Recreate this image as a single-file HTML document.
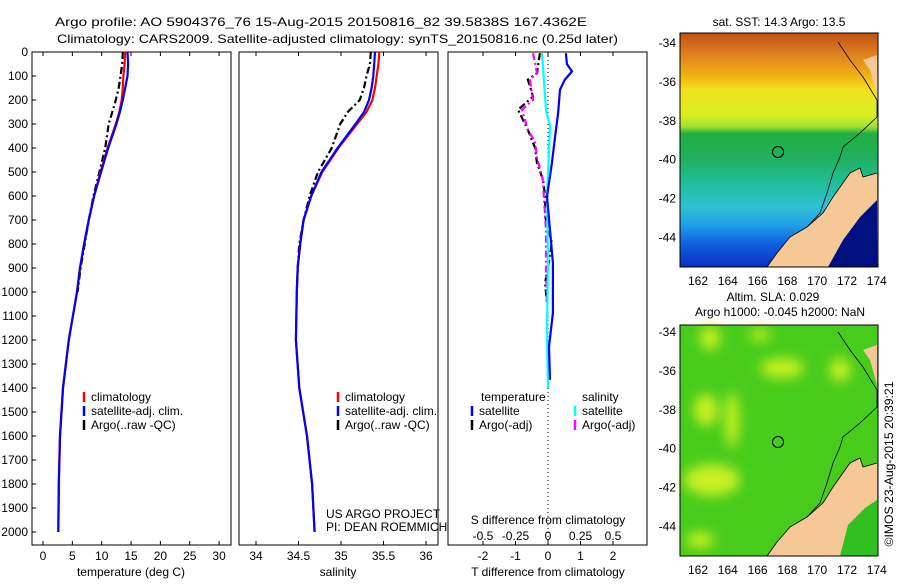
<!DOCTYPE html>
<html><head><meta charset="utf-8"><style>
body{margin:0;background:#fff;}
svg text{font-family:"Liberation Sans",sans-serif;font-size:12px;fill:#000;}
</style></head><body>
<svg id="c" width="900" height="580" viewBox="0 0 900 580" xmlns="http://www.w3.org/2000/svg">
<defs>
<linearGradient id="sst" x1="0" y1="0" x2="0" y2="1">
<stop offset="0" stop-color="#c05010"/><stop offset="0.09" stop-color="#e08020"/>
<stop offset="0.18" stop-color="#f0b010"/><stop offset="0.24" stop-color="#f0e020"/>
<stop offset="0.35" stop-color="#d8f020"/><stop offset="0.40" stop-color="#a0e030"/>
<stop offset="0.43" stop-color="#20b040"/><stop offset="0.54" stop-color="#20b060"/>
<stop offset="0.65" stop-color="#20c0a0"/><stop offset="0.74" stop-color="#30c0d0"/>
<stop offset="0.82" stop-color="#20a0e8"/><stop offset="0.9" stop-color="#1060e0"/>
<stop offset="1" stop-color="#0830c0"/></linearGradient>
<filter id="bl"><feGaussianBlur stdDeviation="6"/></filter>
</defs>
<text x="55" y="26" font-size="13" textLength="532" lengthAdjust="spacingAndGlyphs">Argo profile: AO 5904376_76 15-Aug-2015 20150816_82 39.5838S 167.4362E</text>
<text x="57" y="43" font-size="13" textLength="561" lengthAdjust="spacingAndGlyphs">Climatology: CARS2009. Satellite-adjusted climatology: synTS_20150816.nc (0.25d later)</text>
<g id="axes"></g>
<g id="marks"></g>
<g>
<text x="779" y="26" text-anchor="middle">sat. SST: 14.3 Argo: 13.5</text>
<rect x="680" y="33" width="198" height="234" fill="url(#sst)"/>
<polygon points="828,267 843,240 860,217 877,200 877,267" fill="#001080"/>
<polygon points="767,267 777,253 790,237 807,227 823,213 833,197 850,173 860,168 863,177 877,173 877,200 860,217 843,240 828,267" fill="#f5c896"/>
<polygon points="863,60 877,55 877,95 870,70" fill="#f5c896"/>
<polyline points="767,267 777,253 790,237 807,227 823,213 833,197 850,173 860,168 863,177 877,173" fill="none" stroke="#000" stroke-width="0.8"/>
<polyline points="838,42 850,60 863,77 877,100 877,117 860,133 843,147 840,157 833,173 827,193 820,213 807,227" fill="none" stroke="#000" stroke-width="0.8"/>
<circle cx="778" cy="152" r="5.5" fill="none" stroke="#000"/>
<rect x="680" y="33" width="198" height="234" fill="none" stroke="#000"/>
</g>
<g>
<text x="773" y="301" text-anchor="middle">Altim. SLA: 0.029</text>
<text x="780" y="316" text-anchor="middle">Argo h1000: -0.045 h2000: NaN</text>
<rect x="680" y="325" width="198" height="231" fill="#48cc1c"/>
<g filter="url(#bl)" fill="#c8f020">
<ellipse cx="706" cy="410" rx="12" ry="16"/><ellipse cx="732" cy="420" rx="7" ry="28"/>
<ellipse cx="712" cy="480" rx="28" ry="16"/><ellipse cx="782" cy="368" rx="22" ry="10"/>
<ellipse cx="710" cy="338" rx="10" ry="12"/><ellipse cx="840" cy="370" rx="10" ry="12"/>
<ellipse cx="760" cy="335" rx="10" ry="6"/><ellipse cx="700" cy="540" rx="14" ry="8"/>
</g>
<polygon points="767,556 777,542 790,527 807,517 823,503 833,487 850,463 860,458 863,467 877,463 877,556" fill="#f5c896"/>
<polygon points="840,556 848,525 865,508 877,500 877,556" fill="#30c020"/>
<polygon points="863,350 877,345 877,385 870,360" fill="#f5c896"/>
<polyline points="767,556 777,542 790,527 807,517 823,503 833,487 850,463 860,458 863,467 877,463" fill="none" stroke="#000" stroke-width="0.8"/>
<polyline points="838,332 850,350 863,367 877,390 877,407 860,423 843,437 840,447 833,463 827,483 820,503 807,517" fill="none" stroke="#000" stroke-width="0.8"/>
<circle cx="778" cy="442" r="5.5" fill="none" stroke="#000"/>
<rect x="680" y="325" width="198" height="231" fill="none" stroke="#000"/>
</g>
<text transform="translate(893,464) rotate(-90)" text-anchor="middle" textLength="165" lengthAdjust="spacingAndGlyphs">©IMOS 23-Aug-2015 20:39:21</text>
<text x="326" y="518">US ARGO PROJECT</text>
<text x="326" y="531">PI: DEAN ROEMMICH</text>
</svg>
<script>
// ---- data ----
const depths=[0,50,100,150,200,250,300,400,500,600,700,800,900,1000,1200,1400,1600,1800,2000];
const climT=[14.0,13.9,13.7,13.6,13.4,13.0,12.4,11.0,9.8,8.7,7.8,7.0,6.3,5.8,4.4,3.4,2.9,2.7,2.6];
const satT=[14.4,14.5,14.4,14.0,13.6,13.1,12.5,11.1,9.9,8.7,7.8,7.0,6.3,5.8,4.4,3.4,2.9,2.7,2.6];
const argoDepths=[0,50,100,150,200,250,300,400,500,600,700,800,900,1000];
const argoT=[13.6,13.5,13.2,12.9,12.4,11.8,11.2,10.6,9.6,8.6,7.8,7.1,6.4,5.9];
const climS=[35.45,35.44,35.42,35.40,35.37,35.30,35.19,34.97,34.78,34.65,34.56,34.52,34.49,34.48,34.47,34.51,34.60,34.66,34.69];
const satS=[35.40,35.39,35.38,35.36,35.33,35.27,35.17,34.96,34.77,34.65,34.56,34.52,34.49,34.48,34.47,34.51,34.60,34.66,34.69];
const argoS=[35.35,35.34,35.30,35.27,35.22,35.08,34.99,34.89,34.73,34.63,34.56,34.51,34.49,34.48];
const satTdDepths=[5,50,81,115,157,255,352,463,602,741,880,1088,1227,1366];
const satTd=[.55,.58,.74,.52,.37,.31,.22,.12,-.03,.06,.15,.15,.03,.06];
const argoTdDepths=[5,88,115,186,241,325,398,463,533,602,685,796,963,1046];
const argoTd=[-.25,-.34,-.62,-.46,-.92,-.62,-.4,-.34,-.15,-.09,-.09,.12,-.09,-.03];
const satSdDepths=[5,241,310,602,880,1160,1400];
const satSd=[-.046,-.015,.015,-.008,0,-.008,0];
const argoSdDepths=[5,88,115,200,241,325,373,440,533,741,907,1046];
const argoSd=[-.115,-.085,-.14,-.115,-.2,-.155,-.1,-.085,-.04,-.015,-.015,-.008];
const depthTicks=[0,100,200,300,400,500,600,700,800,900,1000,1100,1200,1300,1400,1500,1600,1700,1800,1900,2000];
const tTicks=[0,5,10,15,20,25,30];
const sTicks=[34,34.5,35,35.5,36];
const tdTicks=[-2,-1,0,1,2];
const sdTicks=[-0.5,-0.25,0,0.25,0.5];
const sdTickLabels=["-0.5","-0.25","0","0.25","0.5"];
const lonTicks=[162,164,166,168,170,172,174];
const latTicks=[-34,-36,-38,-40,-42,-44];
// ---- scales ----
const Y=d=>52+d*0.24;
const XT=t=>43+t*5.87;
const XS=s=>256+(s-34)*85;
const XTd=v=>548+v*32.5;
const XSd=v=>548+v*130;
const NS="http://www.w3.org/2000/svg";
const ax=document.getElementById('axes'), mk=document.getElementById('marks');
function el(tag,attrs,parent){const e=document.createElementNS(NS,tag);for(const k in attrs)e.setAttribute(k,attrs[k]);parent.appendChild(e);return e;}
function txt(x,y,s,anchor,parent){const t=el('text',{x:x,y:y,'text-anchor':anchor},parent);t.textContent=s;return t;}
const panels=[[32,'temperature-panel'],[239,'salinity-panel'],[448,'difference-panel']];
panels.forEach(p=>{
 const r=el('rect',{x:p[0],y:52,width:199,height:493,fill:'none',stroke:'#000'},ax);
 
 
});
depthTicks.forEach(d=>{
 el('line',{x1:32,x2:36,y1:Y(d),y2:Y(d),stroke:'#000'},ax);
 const t=txt(28,Y(d)+4,String(d),'end',ax);
 
 
});
function xticks(vals,f,labels,ly){vals.forEach((v,i)=>{
 el('line',{x1:f(v),x2:f(v),y1:52,y2:56,stroke:'#000'},ax);
 el('line',{x1:f(v),x2:f(v),y1:545,y2:541,stroke:'#000'},ax);
 const t=txt(f(v),ly,labels?labels[i]:String(v),'middle',ax);
 
 
});}
xticks(tTicks,XT,null,560);
xticks(sTicks,XS,null,560);
xticks(tdTicks,XTd,null,560);
sdTicks.forEach((v,i)=>{const t=txt(XSd(v),540,sdTickLabels[i],'middle',ax);
 
 });
[[131,576,'temperature (deg C)','x-axis-title-temperature'],[338,576,'salinity','x-axis-title-salinity'],[548,576,'T difference from climatology','x-axis-title-t-diff'],[548,524,'S difference from climatology','x-axis-title-s-diff']].forEach(a=>{
 const t=txt(a[0],a[1],a[2],'middle',ax);
 
 
});
el('line',{x1:548,x2:548,y1:52,y2:545,stroke:'#000','stroke-dasharray':'1,3'},ax);
function line(xs,ds,fx,color,dash,name){
 const pts=xs.map((v,i)=>fx(v).toFixed(1)+','+Y(ds[i]).toFixed(1)).join(' ');
 const p=el('polyline',{points:pts,fill:'none',stroke:color,'stroke-width':2.2},mk);
 if(dash)p.setAttribute('stroke-dasharray',dash);
 
 
}
line(argoT,argoDepths,XT,'#000','7,3,2,3','argo-temperature-line');
line(climT,depths,XT,'#f00',null,'climatology-temperature-line');
line(satT,depths,XT,'#00f',null,'satellite-temperature-line');
line(argoS,argoDepths,XS,'#000','7,3,2,3','argo-salinity-line');
line(climS,depths,XS,'#f00',null,'climatology-salinity-line');
line(satS,depths,XS,'#00f',null,'satellite-salinity-line');
line(argoTd,argoTdDepths,XTd,'#000','7,3,2,3','argo-t-diff-line');
line(argoSd,argoSdDepths,XSd,'#f0f','7,3,2,3','argo-s-diff-line');
line(satSd,satSdDepths,XSd,'#0ff',null,'satellite-s-diff-line');
line(satTd,satTdDepths,XTd,'#00f',null,'satellite-t-diff-line');
function leg(x,y,color,dash,label,name){
 const l=el('line',{x1:x,x2:x,y1:y-9,y2:y+1,stroke:color,'stroke-width':2.5},mk);
 if(dash)l.setAttribute('stroke-dasharray',dash);
 const t=txt(x+7,y,label,'start',mk);
 
 
}
leg(84,401,'#f00',null,'climatology','legend-climatology-t');
leg(84,415,'#00f',null,'satellite-adj. clim.','legend-satellite-t');
leg(84,429,'#000',null,'Argo(..raw -QC)','legend-argo-t');
leg(338,401,'#f00',null,'climatology','legend-climatology-s');
leg(338,415,'#00f',null,'satellite-adj. clim.','legend-satellite-s');
leg(338,429,'#000',null,'Argo(..raw -QC)','legend-argo-s');
const lt=txt(481,401,'temperature','start',mk);


const ls=txt(582,401,'salinity','start',mk);


leg(472,415,'#00f',null,'satellite','legend-satellite-t-diff');
leg(472,429,'#000',null,'Argo(-adj)','legend-argo-t-diff');
leg(575,415,'#0ff',null,'satellite','legend-satellite-s-diff');
leg(575,429,'#f0f',null,'Argo(-adj)','legend-argo-s-diff');
function mapAxes(top,bottom,lat0){
 lonTicks.forEach(l=>{const x=698+(l-162)*14.9;
  el('line',{x1:x,x2:x,y1:top,y2:top+3,stroke:'#000'},ax);
  el('line',{x1:x,x2:x,y1:bottom,y2:bottom-3,stroke:'#000'},ax);
  const t=txt(x,bottom+18,String(l),'middle',ax);
  
  });
 latTicks.forEach(l=>{const y=lat0+(-34-l)*19.45;
  el('line',{x1:680,x2:683,y1:y,y2:y,stroke:'#000'},ax);
  el('line',{x1:878,x2:875,y1:y,y2:y,stroke:'#000'},ax);
  const t=txt(676,y+4,String(l),'end',ax);
  
  });
}
mapAxes(33,267,43);
mapAxes(325,556,332);
</script>
</body></html>
